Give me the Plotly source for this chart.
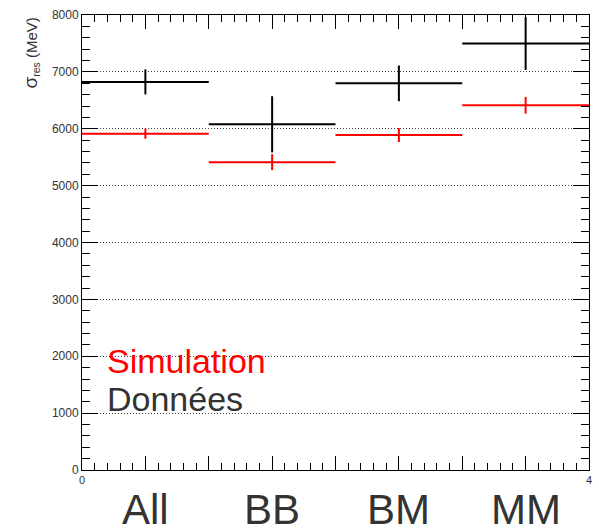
import plotly.graph_objects as go

categories = ["All", "BB", "BM", "MM"]
bin_centers = [0.5, 1.5, 2.5, 3.5]
bin_half_width = [0.5, 0.5, 0.5, 0.5]

data_values = [6824, 6078, 6798, 7498]
data_errors = [220, 494, 314, 465]

sim_values = [5914, 5413, 5889, 6413]
sim_errors = [90, 140, 123, 147]

legend_labels = ["Simulation", "Données"]
y_title = "<span style='font-size:19px'>σ</span><sub>res</sub> (MeV)"

FONT = "Liberation Sans, Arial, sans-serif"

fig = go.Figure()

def add_series(vals, errs, color):
    fig.add_trace(go.Scatter(
        x=bin_centers, y=vals, mode="markers",
        marker=dict(size=1, color=color),
        error_x=dict(type="data", array=bin_half_width, width=0, thickness=2, color=color),
        error_y=dict(type="data", array=errs, width=0, thickness=2, color=color),
        showlegend=False, hoverinfo="skip",
    ))

add_series(data_values, data_errors, "black")
add_series(sim_values, sim_errors, "#ff0000")

xt = [i * 0.5 for i in range(9)]
xtext = ["0"] + [""] * 7 + ["4"]

fig.update_layout(
    width=599, height=529,
    margin=dict(l=82, r=7, t=15, b=59),
    paper_bgcolor="white", plot_bgcolor="white",
    font=dict(family=FONT, color="#333333"),
    xaxis=dict(
        range=[0, 4], tickmode="array", tickvals=xt, ticktext=xtext,
        ticks="inside", ticklen=14, tickwidth=1, tickcolor="black",
        showline=True, linecolor="black", linewidth=1, mirror="ticks",
        showgrid=False, zeroline=False,
        tickfont=dict(size=11, color="#333333", family=FONT),
        minor=dict(tickmode="linear", tick0=0, dtick=0.1, ticks="inside", ticklen=7, tickcolor="black", showgrid=False),
    ),
    yaxis=dict(
        range=[0, 8000], tickmode="linear", tick0=0, dtick=1000,
        ticks="inside", ticklen=16, tickwidth=1, tickcolor="black",
        showline=True, linecolor="black", linewidth=1, mirror="ticks",
        showgrid=True, gridcolor="#444444", griddash="1px,2px", gridwidth=1,
        zeroline=False,
        tickfont=dict(size=12, color="#333333", family=FONT),
        minor=dict(tickmode="linear", tick0=0, dtick=200, ticks="inside", ticklen=8, tickcolor="black", showgrid=False),
    ),
)

for c, name in zip(bin_centers, categories):
    fig.add_annotation(x=c, xref="x", y=-0.086, yref="paper", text=name,
                       showarrow=False, yanchor="middle", xanchor="center",
                       font=dict(size=42, color="#333333", family=FONT))

fig.add_annotation(x=0, xref="paper", y=1, yref="paper", text=y_title,
                   showarrow=False, textangle=-90, xanchor="center", yanchor="top",
                   xshift=-52, yshift=-1, font=dict(size=15, color="#333333", family=FONT))

fig.add_annotation(x=0.045, xref="paper", y=1910, yref="y", text=legend_labels[0],
                   showarrow=False, xanchor="left", yanchor="middle",
                   font=dict(size=34, color="#ff0000", family=FONT))
fig.add_annotation(x=0.045, xref="paper", y=1240, yref="y", text=legend_labels[1],
                   showarrow=False, xanchor="left", yanchor="middle",
                   font=dict(size=34, color="#333333", family=FONT))

fig.write_html("out.html")
